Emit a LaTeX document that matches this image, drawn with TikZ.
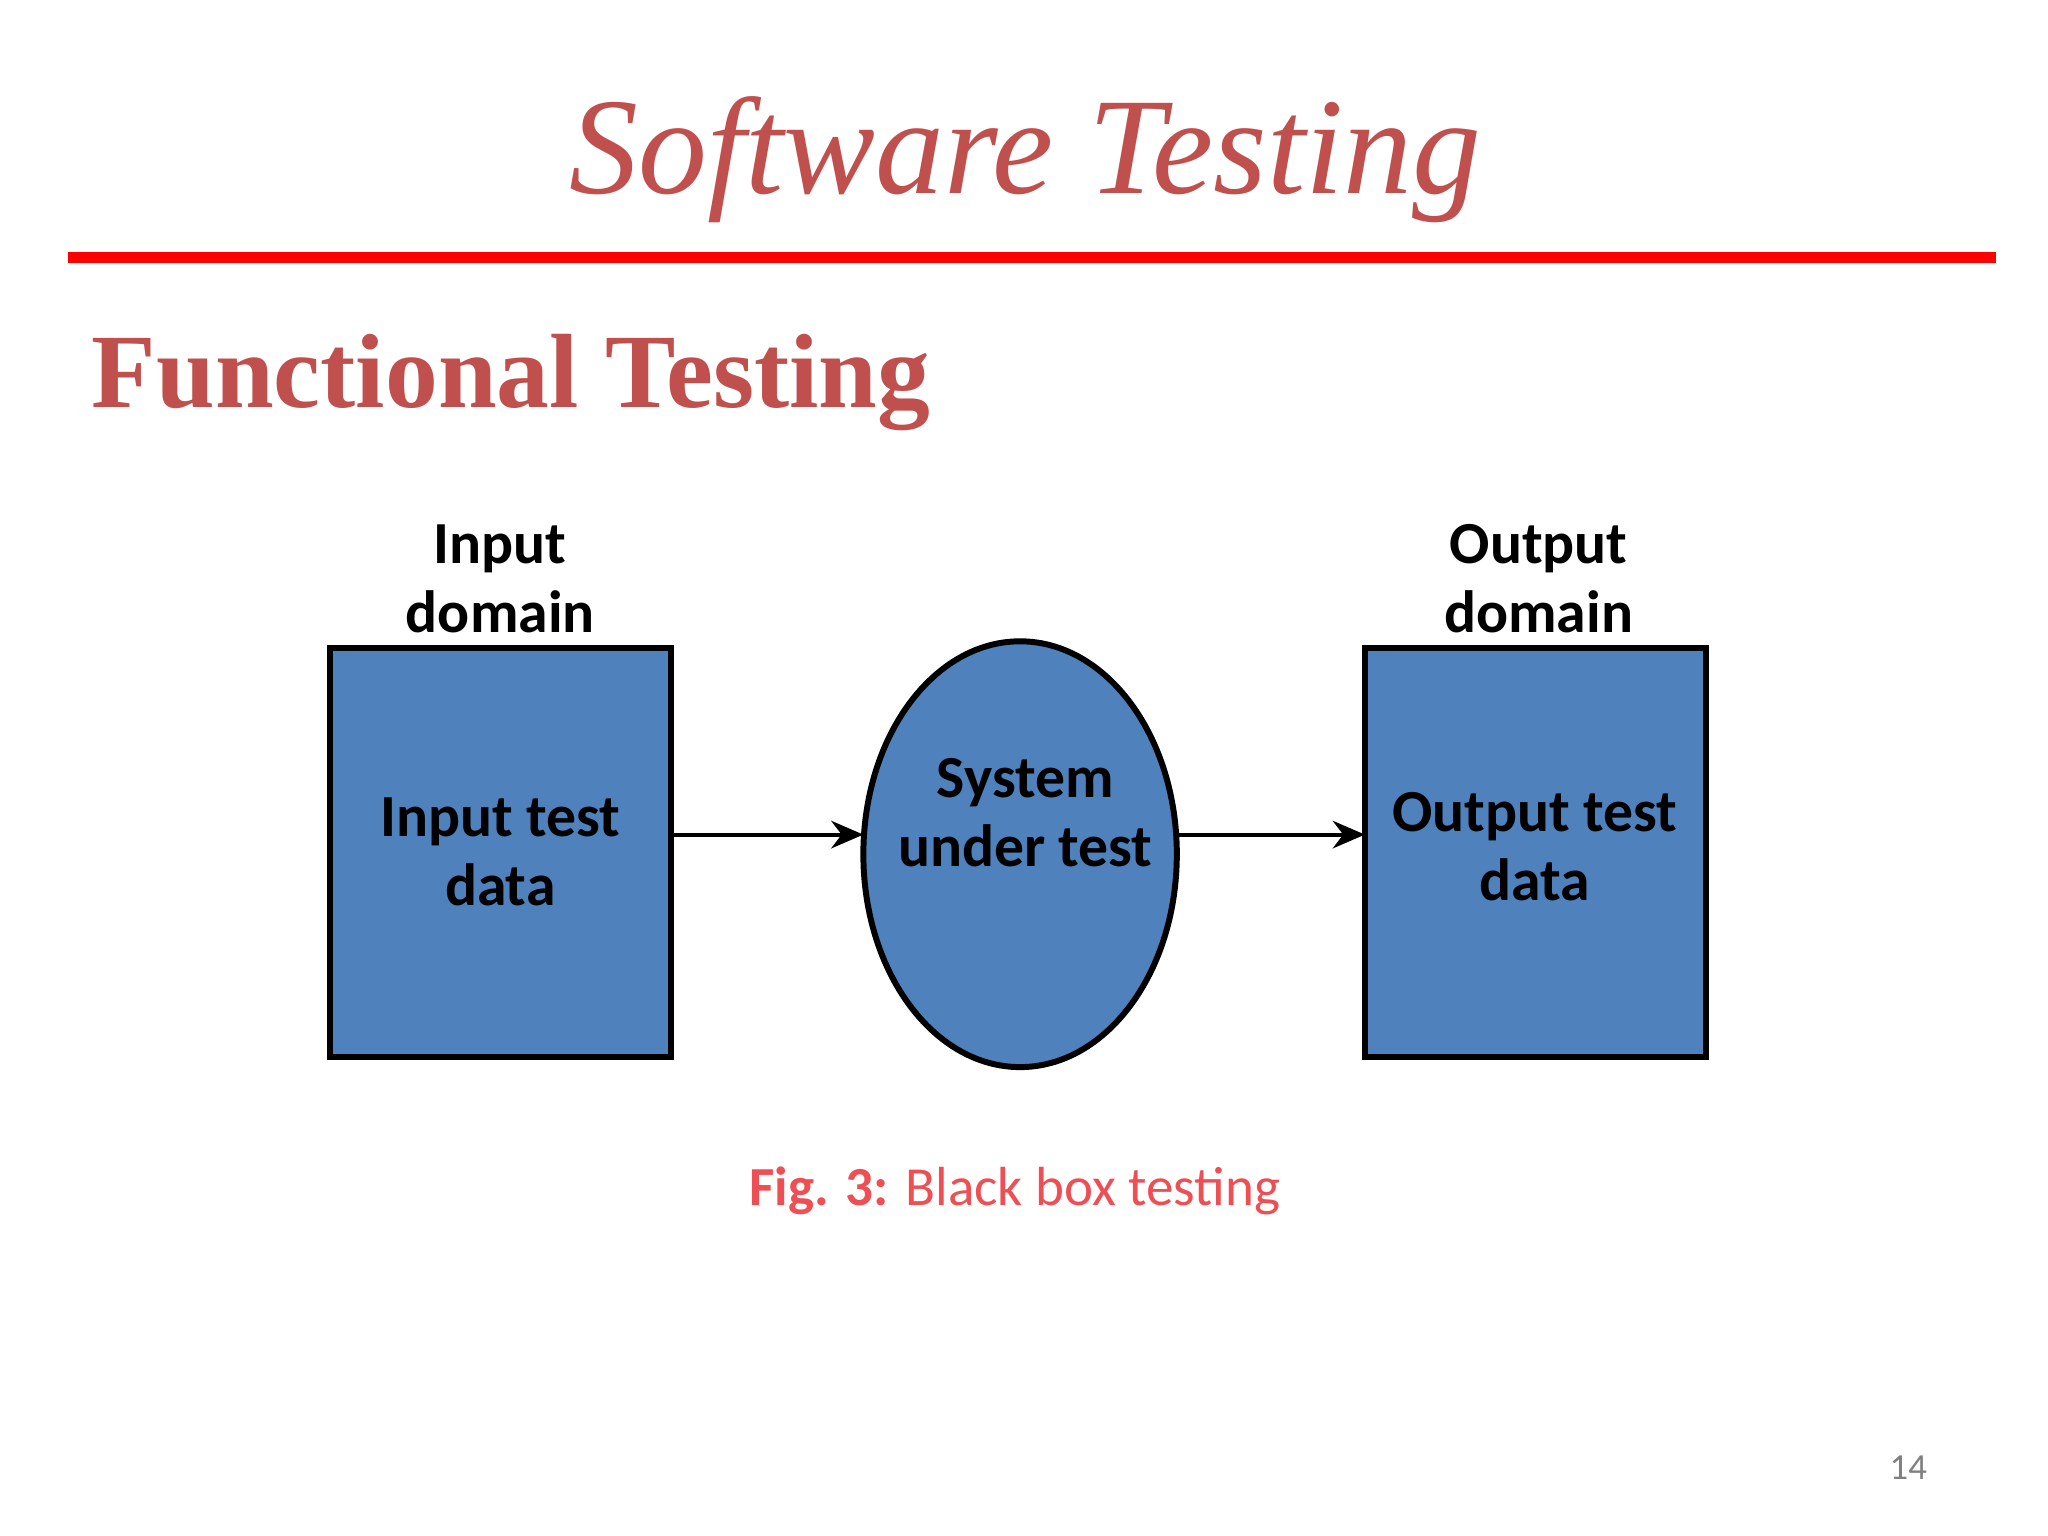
\documentclass[tikz,border=0pt]{standalone}
\usepackage{fontspec}
\setmainfont{Carlito}
\newfontfamily\titlefont{Liberation Serif}
\usetikzlibrary{shapes.geometric,arrows.meta}
\definecolor{titlered}{HTML}{C0504D}
\definecolor{boxblue}{HTML}{4F81BD}
\definecolor{capred}{HTML}{EE4F55}
\begin{document}
\begin{tikzpicture}[
  box/.style={draw=black,line width=1.3pt,fill=boxblue,minimum width=2.61cm,minimum height=3.13cm,inner sep=0pt},
  lbl/.style={font=\fontsize{13}{15}\selectfont\bfseries,align=center},
  conn/.style={line width=0.9pt,-{Stealth[length=7pt,width=6pt]}}
]
\useasboundingbox (0,0) rectangle (15.68,-11.76);
\node[font=\titlefont\itshape\fontsize{30}{34}\selectfont,text=titlered] (title) at (7.85,-1.22) {Software Testing};
\draw[red,line width=2.3pt] (0.52,-1.97) coordinate (l1) -- (15.28,-1.97) coordinate (l2);
\node[anchor=west,font=\titlefont\bfseries\fontsize{23}{26}\selectfont,text=titlered] (sub) at (0.58,-2.93) {Functional Testing};
\node[box] (a) at (3.835,-6.525) {};
\node[box] (c) at (11.755,-6.525) {};
\node[ellipse,draw=black,line width=1.3pt,fill=boxblue,minimum width=2.4cm,minimum height=3.26cm,inner sep=0pt] (e) at (7.81,-6.54) {};
\node[lbl] (at) at (3.83,-6.52) {Input test\\data};
\node[lbl] (et) at (7.85,-6.22) {System\\under test};
\node[lbl] (ct) at (11.75,-6.48) {Output test\\data};
\node[lbl] (ad) at (3.83,-4.43) {Input\\domain};
\node[lbl] (cd) at (11.78,-4.43) {Output\\domain};
\coordinate (p1) at (5.16,-6.39);
\coordinate (p2) at (6.61,-6.39);
\coordinate (p3) at (9.02,-6.39);
\coordinate (p4) at (10.45,-6.39);
\draw[conn] (p1) -- (p2);
\draw[conn] (p3) -- (p4);
\node[font=\fontsize{12}{14}\selectfont,text=capred] (cap) at (7.77,-9.12) {\textbf{Fig. 3:} Black box testing};
\node[font=\fontsize{8}{10}\selectfont,text=gray] (pg) at (14.61,-11.24) {14};
\end{tikzpicture}
\end{document}
